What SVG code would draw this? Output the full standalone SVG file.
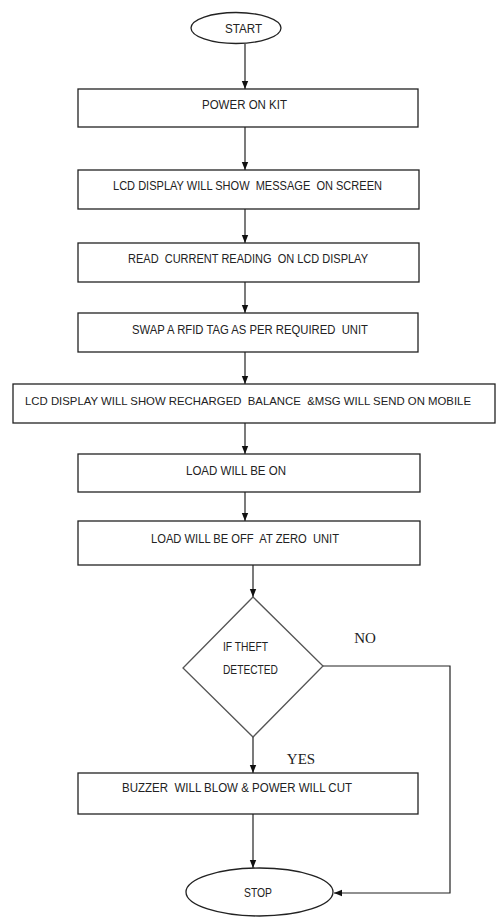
<svg xmlns="http://www.w3.org/2000/svg" width="496" height="920" viewBox="0 0 496 920">
<style>
.b{fill:#fff;stroke:#222;stroke-width:1.3}
.d{fill:#fff;stroke:#555;stroke-width:1.3}
.t{font-family:"Liberation Sans",Arial,sans-serif;font-size:12.5px;fill:#222;dominant-baseline:central;white-space:pre}
.s{font-family:"Liberation Serif","Times New Roman",serif;font-size:15px;fill:#222;dominant-baseline:central}
.c{fill:none;stroke:#222;stroke-width:1.2}
</style>
<defs>
<marker id="ah" viewBox="0 0 8 8" refX="8" refY="4" markerWidth="8" markerHeight="8" markerUnits="userSpaceOnUse" orient="auto">
<path d="M0,0.8 L8,4 L0,7.2 Z" fill="#111"/>
</marker>
</defs>
<g id="connectors">
<line class="c" x1="245" y1="44" x2="245" y2="89" marker-end="url(#ah)"/>
<line class="c" x1="245" y1="127" x2="245" y2="170" marker-end="url(#ah)"/>
<line class="c" x1="245" y1="209" x2="245" y2="243" marker-end="url(#ah)"/>
<line class="c" x1="245" y1="282" x2="245" y2="313" marker-end="url(#ah)"/>
<line class="c" x1="245" y1="352" x2="245" y2="384" marker-end="url(#ah)"/>
<line class="c" x1="245" y1="423" x2="245" y2="454" marker-end="url(#ah)"/>
<line class="c" x1="245" y1="492" x2="245" y2="521" marker-end="url(#ah)"/>
<line class="c" x1="253" y1="565" x2="253" y2="597" marker-end="url(#ah)"/>
<line class="c" x1="253" y1="737" x2="253" y2="773" marker-end="url(#ah)"/>
<line class="c" x1="253" y1="814" x2="253" y2="868" marker-end="url(#ah)"/>
<polyline class="c" points="323,666 450,666 450,893 334,893" marker-end="url(#ah)"/>
<text class="s" x="365" y="638" text-anchor="middle">NO</text>
<text class="s" x="301" y="759" text-anchor="middle">YES</text>
</g>
<g id="start">
<ellipse class="b" cx="236" cy="28" rx="45" ry="15.5"/>
<text class="t" x="243.5" y="29" text-anchor="middle" textLength="37" lengthAdjust="spacingAndGlyphs">START</text>
</g>
<g id="power">
<rect class="b" x="78" y="89" width="340" height="38"/>
<text class="t" x="244.5" y="105" text-anchor="middle" textLength="85" lengthAdjust="spacingAndGlyphs">POWER ON KIT</text>
</g>
<g id="lcd1">
<rect class="b" x="78" y="170" width="341" height="39"/>
<text class="t" x="247.5" y="186" text-anchor="middle" textLength="269" lengthAdjust="spacingAndGlyphs">LCD DISPLAY WILL SHOW  MESSAGE  ON SCREEN</text>
</g>
<g id="read">
<rect class="b" x="78" y="243" width="341" height="39"/>
<text class="t" x="248" y="259" text-anchor="middle" textLength="240" lengthAdjust="spacingAndGlyphs">READ  CURRENT READING  ON LCD DISPLAY</text>
</g>
<g id="swap">
<rect class="b" x="78" y="313" width="340" height="39"/>
<text class="t" x="250" y="330" text-anchor="middle" textLength="236" lengthAdjust="spacingAndGlyphs">SWAP A RFID TAG AS PER REQUIRED  UNIT</text>
</g>
<g id="lcd2">
<rect class="b" x="13" y="384" width="482" height="39"/>
<text class="t" x="25" y="401" style="font-size:11px" textLength="446" lengthAdjust="spacingAndGlyphs">LCD DISPLAY WILL SHOW RECHARGED  BALANCE  &amp;MSG WILL SEND ON MOBILE</text>
</g>
<g id="loadon">
<rect class="b" x="78" y="454" width="342" height="38"/>
<text class="t" x="236" y="471" text-anchor="middle" textLength="100" lengthAdjust="spacingAndGlyphs">LOAD WILL BE ON</text>
</g>
<g id="loadoff">
<rect class="b" x="78" y="521" width="342" height="44"/>
<text class="t" x="245" y="539" text-anchor="middle" textLength="188" lengthAdjust="spacingAndGlyphs">LOAD WILL BE OFF  AT ZERO  UNIT</text>
</g>
<g id="theft">
<polygon class="d" points="253,597 323,666 253,737 183,668"/>
<text class="t" x="223" y="647" textLength="45" lengthAdjust="spacingAndGlyphs">IF THEFT</text>
<text class="t" x="223" y="670" textLength="55" lengthAdjust="spacingAndGlyphs">DETECTED</text>
</g>
<g id="buzzer">
<rect class="b" x="78" y="773" width="340" height="41"/>
<text class="t" x="122" y="788" textLength="230" lengthAdjust="spacingAndGlyphs">BUZZER  WILL BLOW &amp; POWER WILL CUT</text>
</g>
<g id="stop">
<ellipse class="b" cx="259.5" cy="892" rx="73.5" ry="24"/>
<text class="t" x="258" y="893" text-anchor="middle" textLength="28" lengthAdjust="spacingAndGlyphs">STOP</text>
</g>
</svg>
